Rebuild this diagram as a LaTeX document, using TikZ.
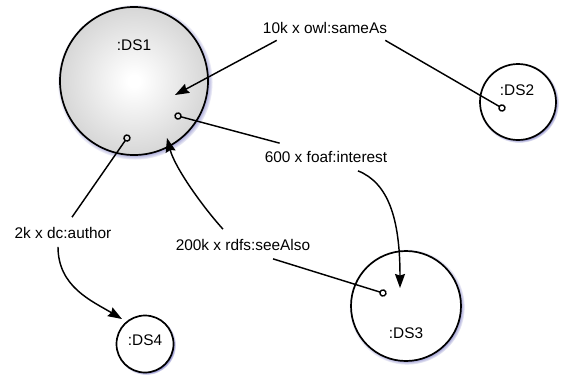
\documentclass[tikz,border=0pt]{standalone}
\usepackage{fontspec}
\setmainfont{Liberation Sans}
\usetikzlibrary{arrows.meta,shadows}

\pgfdeclareradialshading{dsball}{\pgfpoint{0bp}{0bp}}{color(0bp)=(white); color(2bp)=(white); color(50bp)=(black!33)}

\tikzset{
  ds/.style={circle, draw, line width=1.7pt, inner sep=0pt,
    circular drop shadow={shadow scale=1.05, shadow xshift=1pt, shadow yshift=-1pt, fill=blue!55!black, opacity=.75}},
  lbl/.style={inner sep=2pt, font=\fontsize{15.4}{18}\selectfont},
  link/.style={line width=1.45pt},
  dotline/.style={{Circle[open,length=7.5pt,width=7.5pt,line width=1.4pt]}-, shorten <=-3.7pt},
  tipline/.style={-{Stealth[length=14pt,width=10pt,inset=1.5pt]}}
}

\begin{document}
\begin{tikzpicture}[x=1pt,y=-1pt]
  \useasboundingbox (0,0) rectangle (562,376);

  % Draw the data sets
  \node[ds, shade, shading=dsball, minimum size=148pt] (ds1) at (134,81) {};
  \node[ds, fill=white, minimum size=76pt] (ds2) at (518,102) {};
  \node[ds, fill=white, minimum size=110pt] (ds3) at (406,306) {};
  \node[ds, fill=white, minimum size=57pt] (ds4) at (145,344) {};

  \node[lbl] (ds1name) at (134,45) {:DS1};
  \node[lbl] (ds2name) at (517,90) {:DS2};
  \node[lbl] (ds3name) at (406,333) {:DS3};
  \node[lbl] (ds4name) at (145,340) {:DS4};

  % Points where the links start and end
  \coordinate (ds1a) at (175,95);
  \coordinate (ds1b) at (178,116);
  \coordinate (ds1c) at (167,138);
  \coordinate (ds1d) at (127,138);
  \coordinate (ds2a) at (502,108);
  \coordinate (ds3a) at (400,288);
  \coordinate (ds3b) at (383,293);
  \coordinate (ds4a) at (122,319);

  % Link labels
  \node[lbl] (sameas) at (325,28) {10k x owl:sameAs};
  \node[lbl] (interest) at (326,157) {600 x foaf:interest};
  \node[lbl] (seealso) at (243,245) {200k x rdfs:seeAlso};
  \node[lbl] (author) at (63,233) {2k x dc:author};

  % owl:sameAs
  \draw[link, dotline] (ds2a) -- ([shift={(-4,4.5)}]sameas.south east);
  \draw[link, tipline] ([shift={(16,4.5)}]sameas.south west) -- (ds1a);

  % foaf:interest
  \draw[link, dotline] (ds1b) -- ([shift={(17,-6)}]interest.north west);
  \draw[link, tipline] ([shift={(32,6)}]interest.south) .. controls +(30,12) and +(0,-70) .. (ds3a);

  % rdfs:seeAlso
  \draw[link, dotline] (ds3b) -- ([shift={(30,6)}]seealso.south);
  \draw[link, tipline] ([shift={(-20,-8)}]seealso.north) .. controls +(-20,-22) and +(8,30) .. (ds1c);

  % dc:author
  \draw[link, dotline] (ds1d) -- ([shift={(9,-8)}]author.north);
  \draw[link, tipline] ([shift={(-5,6)}]author.south) .. controls +(0,40) and +(-30,-18) .. (ds4a);

\end{tikzpicture}
\end{document}
